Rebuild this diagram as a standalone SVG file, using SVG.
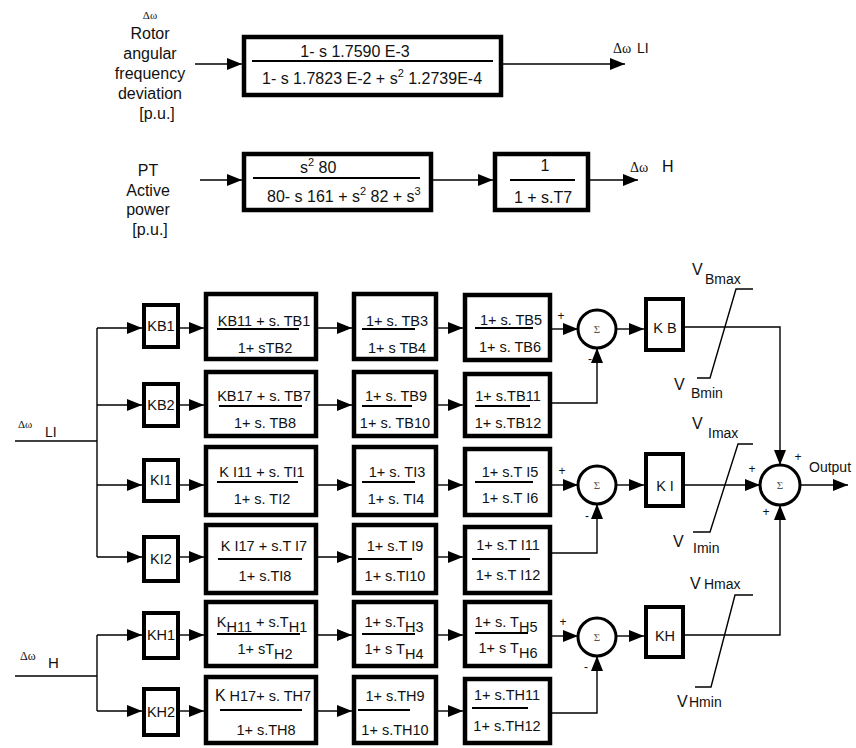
<svg xmlns="http://www.w3.org/2000/svg" width="856" height="748" viewBox="0 0 856 748">
<defs>
<marker id="ah" markerUnits="userSpaceOnUse" markerWidth="15" markerHeight="12" refX="15" refY="6" orient="auto">
<path d="M0,0 L15,6 L0,12 z" fill="#000"/>
</marker>
<style>
.box{fill:#fff;stroke:#000;stroke-width:4.5}
.kb{fill:#fff;stroke:#000;stroke-width:4}
.sum{fill:#fff;stroke:#000;stroke-width:3}
.w{fill:none;stroke:#000;stroke-width:1.4}
.a{fill:none;stroke:#000;stroke-width:1.4;marker-end:url(#ah)}
.fr{stroke:#000;stroke-width:2}
text{font-family:"Liberation Sans",Arial,sans-serif;fill:#111}
.t{font-size:14.5px;text-anchor:middle}
.tl{font-size:16px;text-anchor:middle}
.big{font-size:16px}
.dw{font-family:"Liberation Serif","Times New Roman",serif}
.sg{font-size:12px;text-anchor:middle}
.sig{font-family:"Liberation Serif",serif;font-size:11px;text-anchor:middle;fill:#555}
.v{font-size:16px}
.vs{font-size:14px}
</style>
</defs>
<rect width="856" height="748" fill="#fff"/>

<!-- Top transfer function -->
<g id="in-rotor">
<text class="dw" x="150" y="19" text-anchor="middle" style="font-size:11px">Δω</text>
<text class="tl" x="150" y="39">Rotor</text>
<text class="tl" x="150" y="59">angular</text>
<text class="tl" x="150" y="79">frequency</text>
<text class="tl" x="150" y="99">deviation</text>
<text class="tl" x="157" y="119">[p.u.]</text>
</g>
<g id="tf1">
<rect class="box" x="244" y="37" width="257" height="58"/>
<text class="tl" x="355" y="57">1- s 1.7590 E-3</text>
<line class="fr" x1="252" y1="61" x2="493" y2="61"/>
<text class="big" x="262" y="84">1- s 1.7823 E-2 + s<tspan font-size="11" dy="-7">2</tspan><tspan dy="7"> 1.2739E-4</tspan></text>
</g>
<g id="out-LI">
<text class="dw" x="613" y="53" style="font-size:14px">Δω</text><text x="637" y="53" style="font-size:14px">LI</text>
</g>

<g id="in-pt">
<text class="tl" x="148" y="176">PT</text>
<text class="tl" x="148" y="196">Active</text>
<text class="tl" x="148" y="215">power</text>
<text class="tl" x="150" y="235">[p.u.]</text>
</g>
<g id="tf2">
<rect class="box" x="244" y="154" width="187" height="56"/>
<text class="big" x="300" y="173">s<tspan font-size="11" dy="-7">2</tspan><tspan dy="7"> 80</tspan></text>
<line class="fr" x1="253" y1="178" x2="420" y2="178"/>
<text class="big" x="267" y="202">80- s 161 + s<tspan font-size="11" dy="-7">2</tspan><tspan dy="7"> 82 + s</tspan><tspan font-size="11" dy="-7">3</tspan></text>
</g>
<g id="tf3">
<rect class="box" x="495" y="154" width="93" height="56"/>
<text class="tl" x="545" y="171">1</text>
<line class="fr" x1="510" y1="180" x2="575" y2="180"/>
<text class="tl" x="543" y="203">1 + s.T7</text>
</g>
<g id="out-H">
<text class="dw" x="630" y="172" style="font-size:14px">Δω</text><text x="662" y="172" style="font-size:16px">H</text>
</g>

<!-- Inputs of main diagram -->
<g id="in-LI">
<text class="dw" x="18" y="428" style="font-size:11px">Δω</text><text x="45" y="437" style="font-size:14px">LI</text>
</g>
<g id="in-H">
<text class="dw" x="20" y="660" style="font-size:12px">Δω</text><text x="48" y="668" style="font-size:15px">H</text>
</g>

<!-- K gain boxes -->
<g id="KB1"><rect class="kb" x="144" y="305" width="34" height="42"/><text class="t" x="161" y="331">KB1</text></g>
<g id="KB2"><rect class="kb" x="144" y="384" width="34" height="42"/><text class="t" x="161" y="410">KB2</text></g>
<g id="KI1"><rect class="kb" x="144" y="460" width="34" height="41"/><text class="t" x="161" y="485">KI1</text></g>
<g id="KI2"><rect class="kb" x="144" y="537" width="34" height="44"/><text class="t" x="161" y="564">KI2</text></g>
<g id="KH1"><rect class="kb" x="144" y="613" width="34" height="45"/><text class="t" x="161" y="640">KH1</text></g>
<g id="KH2"><rect class="kb" x="144" y="689" width="34" height="46"/><text class="t" x="161" y="717">KH2</text></g>

<!-- Column 2 -->
<g id="B1a"><rect class="box" x="206" y="294" width="110" height="65"/>
<text class="t" x="264" y="326">KB11 + s. TB1</text><line class="fr" x1="217" y1="329" x2="299" y2="329"/><text class="t" x="265" y="353">1+ sTB2</text></g>
<g id="B2a"><rect class="box" x="206" y="372" width="110" height="64"/>
<text class="t" x="264" y="401">KB17 + s. TB7</text><line class="fr" x1="219" y1="406" x2="302" y2="406"/><text class="t" x="265" y="428">1+ s. TB8</text></g>
<g id="I1a"><rect class="box" x="206" y="447" width="110" height="68"/>
<text class="t" x="262" y="477">K I11 + s. TI1</text><line class="fr" x1="217" y1="482" x2="298" y2="482"/><text class="t" x="262" y="504">1+ s. TI2</text></g>
<g id="I2a"><rect class="box" x="206" y="525" width="110" height="68"/>
<text class="t" x="264" y="551">K I17 + s.T I7</text><line class="fr" x1="218" y1="559" x2="302" y2="559"/><text class="t" x="265" y="581">1+ s.TI8</text></g>
<g id="H1a"><rect class="box" x="206" y="602" width="110" height="64"/>
<text class="t" x="262" y="627">K<tspan dy="5">H11</tspan><tspan dy="-5"> + s.T</tspan><tspan dy="5">H1</tspan></text><line class="fr" x1="217" y1="634" x2="300" y2="634"/><text class="t" x="265" y="654">1+ sT<tspan dy="5">H2</tspan></text></g>
<g id="H2a"><rect class="box" x="206" y="677" width="110" height="66"/>
<text class="t" x="263" y="701"><tspan font-size="16">K</tspan> H17+ s. TH7</text><line class="fr" x1="220" y1="710" x2="302" y2="710"/><text class="t" x="266" y="735">1+ s.TH8</text></g>

<!-- Column 3 -->
<g id="B1b"><rect class="box" x="354" y="294" width="82" height="65"/>
<text class="t" x="397" y="326">1+ s. TB3</text><line class="fr" x1="362" y1="329" x2="415" y2="329"/><text class="t" x="397" y="353">1+ s TB4</text></g>
<g id="B2b"><rect class="box" x="354" y="372" width="82" height="64"/>
<text class="t" x="396" y="401">1+ s. TB9</text><line class="fr" x1="362" y1="406" x2="412" y2="406"/><text class="t" x="395" y="428">1+ s. TB10</text></g>
<g id="I1b"><rect class="box" x="354" y="447" width="82" height="68"/>
<text class="t" x="397" y="477">1+ s. TI3</text><line class="fr" x1="362" y1="482" x2="415" y2="482"/><text class="t" x="396" y="504">1+ s. TI4</text></g>
<g id="I2b"><rect class="box" x="354" y="525" width="82" height="68"/>
<text class="t" x="395" y="551">1+ s.T I9</text><line class="fr" x1="358" y1="559" x2="412" y2="559"/><text class="t" x="395" y="581">1+ s.TI10</text></g>
<g id="H1b"><rect class="box" x="354" y="602" width="82" height="64"/>
<text class="t" x="394" y="627">1+ s.T<tspan dy="5">H3</tspan></text><line class="fr" x1="362" y1="634" x2="415" y2="634"/><text class="t" x="394" y="654">1+ s T<tspan dy="5">H4</tspan></text></g>
<g id="H2b"><rect class="box" x="354" y="677" width="82" height="66"/>
<text class="t" x="395" y="701">1+ s.TH9</text><line class="fr" x1="358" y1="710" x2="410" y2="710"/><text class="t" x="395" y="735">1+ s.TH10</text></g>

<!-- Column 4 -->
<g id="B1c"><rect class="box" x="465" y="295" width="85" height="65"/>
<text class="t" x="511" y="325">1+ s. TB5</text><line class="fr" x1="475" y1="328" x2="533" y2="328"/><text class="t" x="510" y="352">1+ s. TB6</text></g>
<g id="B2c"><rect class="box" x="465" y="374" width="85" height="62"/>
<text class="t" x="508" y="401">1+ s.TB11</text><line class="fr" x1="475" y1="406" x2="530" y2="406"/><text class="t" x="508" y="428">1+ s.TB12</text></g>
<g id="I1c"><rect class="box" x="465" y="449" width="85" height="66"/>
<text class="t" x="510" y="477">1+ s.T I5</text><line class="fr" x1="475" y1="482" x2="533" y2="482"/><text class="t" x="510" y="503">1+ s.T I6</text></g>
<g id="I2c"><rect class="box" x="465" y="527" width="85" height="66"/>
<text class="t" x="508" y="550">1+ s.T I11</text><line class="fr" x1="472" y1="559" x2="530" y2="559"/><text class="t" x="508" y="580">1+ s.T I12</text></g>
<g id="H1c"><rect class="box" x="465" y="602" width="85" height="64"/>
<text class="t" x="506" y="627">1+ s. T<tspan dy="5">H5</tspan></text><line class="fr" x1="475" y1="633" x2="528" y2="633"/><text class="t" x="508" y="653">1+ s T<tspan dy="5">H6</tspan></text></g>
<g id="H2c"><rect class="box" x="465" y="679" width="85" height="64"/>
<text class="t" x="507" y="700">1+ s.TH11</text><line class="fr" x1="472" y1="708" x2="528" y2="708"/><text class="t" x="507" y="731">1+ s.TH12</text></g>

<!-- Sum junctions -->
<g id="sumB"><circle class="sum" cx="597" cy="329" r="19"/><text class="sig" x="597" y="333">Σ</text>
<text class="sg" x="561" y="320">+</text><text class="sg" x="590" y="363">-</text></g>
<g id="sumI"><circle class="sum" cx="597" cy="485" r="19"/><text class="sig" x="597" y="489">Σ</text>
<text class="sg" x="562" y="475">+</text><text class="sg" x="587" y="520">-</text></g>
<g id="sumH"><circle class="sum" cx="597" cy="637" r="19"/><text class="sig" x="597" y="641">Σ</text>
<text class="sg" x="563" y="626">+</text><text class="sg" x="586" y="671">-</text></g>

<!-- Gains -->
<g id="KB"><rect class="kb" x="646" y="299" width="37" height="51"/><text class="t" x="665" y="333">K B</text></g>
<g id="KI"><rect class="kb" x="646" y="454" width="37" height="52"/><text class="t" x="665" y="491">K I</text></g>
<g id="KH"><rect class="kb" x="646" y="607" width="37" height="50"/><text class="t" x="665" y="641">KH</text></g>

<!-- Limiters -->
<g id="limB">
<polyline class="w" points="697,378 710,378 736,289 753,289"/>
<text class="v" x="692" y="275">V</text><text class="vs" x="705" y="284">Bmax</text>
<text class="v" x="674" y="390">V</text><text class="vs" x="691" y="398">Bmin</text>
</g>
<g id="limI">
<polyline class="w" points="693,532 710,532 738,444 753,444"/>
<text class="v" x="692" y="429">V</text><text class="vs" x="708" y="438">Imax</text>
<text class="v" x="673" y="547">V</text><text class="vs" x="693" y="553">Imin</text>
</g>
<g id="limH">
<polyline class="w" points="695,687 711,687 735,595 753,595"/>
<text class="v" x="690" y="589">V</text><text class="vs" x="704" y="589">Hmax</text>
<text class="v" x="677" y="707">V</text><text class="vs" x="689" y="707">Hmin</text>
</g>

<!-- Output sum -->
<g id="sumOut"><circle class="sum" cx="780" cy="485" r="20"/><text class="sig" x="780" y="489">Σ</text>
<text class="sg" x="798" y="461">+</text><text class="sg" x="752" y="473">+</text><text class="sg" x="766" y="516">+</text></g>
<g id="output"><text x="809" y="472" style="font-size:14px">Output</text></g>

<!-- Connectors -->
<g id="connectors">
<line class="a" x1="195" y1="64" x2="242" y2="64"/>
<line class="a" x1="503" y1="64" x2="625" y2="64"/>
<line class="a" x1="200" y1="180" x2="242" y2="180"/>
<line class="a" x1="433" y1="180" x2="493" y2="180"/>
<line class="a" x1="590" y1="180" x2="638" y2="180"/>

<line class="w" x1="15" y1="441" x2="97" y2="441"/>
<line class="w" x1="97" y1="328" x2="97" y2="557"/>
<line class="w" x1="15" y1="676" x2="97" y2="676"/>
<line class="w" x1="97" y1="635" x2="97" y2="711"/>

<line class="a" x1="97" y1="328" x2="142" y2="328"/>
<line class="a" x1="97" y1="405" x2="142" y2="405"/>
<line class="a" x1="97" y1="485" x2="142" y2="485"/>
<line class="a" x1="97" y1="557" x2="142" y2="557"/>
<line class="a" x1="97" y1="635" x2="142" y2="635"/>
<line class="a" x1="97" y1="711" x2="142" y2="711"/>

<line class="a" x1="180" y1="328" x2="204" y2="328"/>
<line class="a" x1="180" y1="405" x2="204" y2="405"/>
<line class="a" x1="180" y1="485" x2="204" y2="485"/>
<line class="a" x1="180" y1="557" x2="204" y2="557"/>
<line class="a" x1="180" y1="635" x2="204" y2="635"/>
<line class="a" x1="180" y1="711" x2="204" y2="711"/>

<line class="a" x1="318" y1="328" x2="352" y2="328"/>
<line class="a" x1="318" y1="405" x2="352" y2="405"/>
<line class="a" x1="318" y1="485" x2="352" y2="485"/>
<line class="a" x1="318" y1="557" x2="352" y2="557"/>
<line class="a" x1="318" y1="635" x2="352" y2="635"/>
<line class="a" x1="318" y1="711" x2="352" y2="711"/>

<line class="a" x1="438" y1="328" x2="463" y2="328"/>
<line class="a" x1="438" y1="405" x2="463" y2="405"/>
<line class="a" x1="438" y1="485" x2="463" y2="485"/>
<line class="a" x1="438" y1="557" x2="463" y2="557"/>
<line class="a" x1="438" y1="635" x2="463" y2="635"/>
<line class="a" x1="438" y1="711" x2="463" y2="711"/>

<line class="a" x1="552" y1="329" x2="578" y2="329"/>
<line class="a" x1="552" y1="485" x2="578" y2="485"/>
<line class="a" x1="552" y1="636" x2="578" y2="636"/>
<polyline class="a" points="552,403 597,403 597,348"/>
<polyline class="a" points="552,553 597,553 597,504"/>
<polyline class="a" points="552,713 597,713 597,656"/>

<line class="a" x1="616" y1="329" x2="644" y2="329"/>
<line class="a" x1="616" y1="485" x2="644" y2="485"/>
<line class="a" x1="616" y1="636" x2="644" y2="636"/>

<polyline class="a" points="685,327 780,327 780,465"/>
<line class="a" x1="685" y1="485" x2="760" y2="485"/>
<polyline class="a" points="685,635 780,635 780,505"/>
<line class="a" x1="800" y1="485" x2="848" y2="485"/>
</g>
</svg>
